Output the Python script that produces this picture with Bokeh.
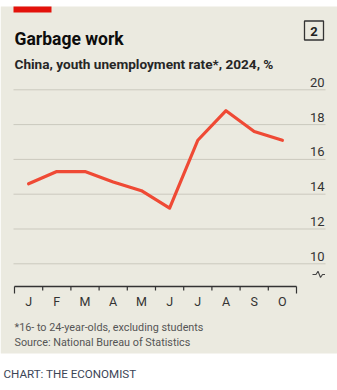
from bokeh.plotting import figure, ColumnDataSource
from bokeh.models import Range1d
from bokeh.embed import file_html
from bokeh.resources import INLINE
from bokeh.core.properties import value

# ---- data ----
months = ["J", "F", "M", "A", "M", "J", "J", "A", "S", "O"]
rate = [14.6, 15.3, 15.3, 14.7, 14.2, 13.2, 17.1, 18.8, 17.6, 17.1]
y_ticks = [10, 12, 14, 16, 18, 20]
y_tick_labels = ["10", "12", "14", "16", "18", "20"]

title = "Garbage work"
subtitle = "China, youth unemployment rate*, 2024, %"
note1 = "*16- to 24-year-olds, excluding students"
note2 = "Source: National Bureau of Statistics"
credit = "CHART: THE ECONOMIST"
chart_no = "2"

# ---- layout (pixel positions -> data coordinates) ----
W, H = 337, 390
X0_PX, X1_PX = 14, 296          # month axis extent
UX = (X1_PX - X0_PX) / len(months)
Y20_PX, UY = 89.3, 17.4         # pixel of 20% gridline, px per %


def px2x(px):
    return -0.5 + (px - X0_PX) / UX


def py2y(py):
    return 20 - (py - Y20_PX) / UY


BG = "#EBEAE0"
RED = "#E3120B"
LINE = "#EF4A35"
FONT = value("Roboto")

p = figure(width=W, height=H,
           x_range=Range1d(px2x(0), px2x(W)),
           y_range=Range1d(py2y(H), py2y(0)),
           output_backend="svg", toolbar_location=None,
           x_axis_type=None, y_axis_type=None, min_border=0,
           outline_line_color=None, background_fill_color="white",
           border_fill_color="white")

# panel and red tag
p.quad(left=px2x(0), right=px2x(W), top=py2y(6), bottom=py2y(353),
       fill_color=BG, line_color=None)
p.quad(left=px2x(13), right=px2x(51), top=py2y(6), bottom=py2y(12),
       fill_color=RED, line_color=None)

# titles
p.text(x=px2x(14), y=py2y(38.3), text=[title], text_font=FONT,
       text_font_size="17.5px", text_font_style="bold", text_color="#0D0D0D",
       text_baseline="alphabetic", text_align="left")
p.text(x=px2x(14), y=py2y(63.5), text=[subtitle], text_font=FONT,
       text_font_size="13.6px", text_font_style="bold", text_color="#262626",
       text_baseline="alphabetic", text_align="left")

# chart number box
p.quad(left=px2x(304), right=px2x(323), top=py2y(20.5), bottom=py2y(39.5),
       fill_color=None, line_color="#333333", line_width=1.3)
p.text(x=px2x(313.5), y=py2y(30.5), text=[chart_no], text_font=FONT,
       text_font_size="13px", text_font_style="bold", text_color="#222222",
       text_baseline="middle", text_align="center")

# gridlines
p.segment(x0=px2x(13), x1=px2x(325), y0=y_ticks, y1=y_ticks,
          line_color="#CBC9BE", line_width=1)

# y tick labels
ysrc = ColumnDataSource(dict(y=y_ticks, text=y_tick_labels))
p.text(x=px2x(324), y="y", text="text", source=ysrc, y_offset=-3,
       text_font=FONT, text_font_size="13px", text_color="#333333",
       text_baseline="bottom", text_align="right")

# axis break symbol
bx = [312, 315.5, 317.5, 320, 322, 324.5]
by = [274, 274, 270.8, 277, 274, 274]
p.line(x=[px2x(v) for v in bx], y=[py2y(v) for v in by],
       line_color="#444444", line_width=1.1)

# x axis
n = len(months)
p.segment(x0=-0.5, x1=n - 0.5, y0=py2y(286), y1=py2y(286),
          line_color="#333333", line_width=1.3)
bounds = [i - 0.5 for i in range(n + 1)]
tick_end = [py2y(293) if i in (0, n) else py2y(290) for i in range(n + 1)]
p.segment(x0=bounds, x1=bounds, y0=py2y(286), y1=tick_end,
          line_color="#333333", line_width=1.2)
p.text(x=list(range(n)), y=py2y(300.8), text=months, text_font=FONT,
       text_font_size="12.5px", text_color="#333333",
       text_baseline="middle", text_align="center")

# data line
p.line(x=list(range(n)), y=rate, line_color=LINE, line_width=3.2,
       line_join="round", line_cap="round")

# footnotes
p.text(x=px2x(14), y=py2y(327), text=[note1], text_font=FONT,
       text_font_size="10.8px", text_color="#555555",
       text_baseline="alphabetic", text_align="left")
p.text(x=px2x(14), y=py2y(341.8), text=[note2], text_font=FONT,
       text_font_size="10.8px", text_color="#555555",
       text_baseline="alphabetic", text_align="left")
p.text(x=px2x(3), y=py2y(373.5), text=[credit], text_font=FONT,
       text_font_size="11.6px", text_color="#3B4556",
       text_baseline="alphabetic", text_align="left")

open("out.html", "w").write(file_html(p, INLINE))
